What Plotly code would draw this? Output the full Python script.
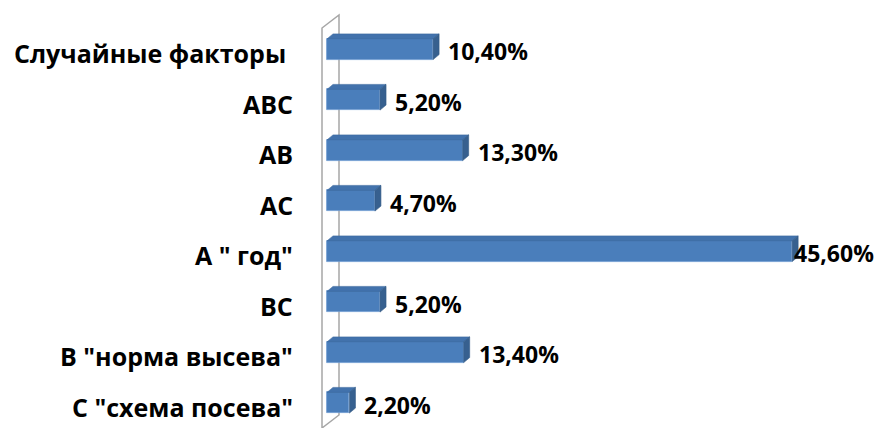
import plotly.graph_objects as go

categories = ["Случайные факторы ", "АВС", "АВ", "АС", "А \" год\"", "ВС", "В \"норма высева\"", "С \"схема посева\""]
values = [10.4, 5.2, 13.3, 4.7, 45.6, 5.2, 13.4, 2.2]
labels = ["10,40%", "5,20%", "13,30%", "4,70%", "45,60%", "5,20%", "13,40%", "2,20%"]

W, H = 875, 428
ML, MR, MT, MB = 315, 8, 24, 0
X0, X1 = -1.176, 52.94
Y0, Y1 = 7.5, -0.5
pw, ph = W - ML - MR, H - MT - MB
pxx = pw / (X1 - X0)
pxy = ph / abs(Y0 - Y1)

bw = 0.41
dx = 6 / pxx
dy = 5 / pxy

ypos = list(range(len(categories)))

FONT = "Open Sans"
LABEL_W = 80  # approximate pixel width of a data label

fig = go.Figure()
fig.add_trace(go.Bar(
    y=ypos, x=values, orientation="h", width=bw,
    marker=dict(color="#4a7ebb", line=dict(color="#6f9ad0", width=0.8)),
    hoverinfo="skip", showlegend=False,
))

topx, topy, sidex, sidey = [], [], [], []
for y, v in zip(ypos, values):
    t = y - bw / 2
    b = y + bw / 2
    topx += [0, v, v + dx, dx, 0, None]
    topy += [t, t, t - dy, t - dy, t, None]
    sidex += [v, v + dx, v + dx, v, v, None]
    sidey += [t, t - dy, b - dy, b, t, None]

fig.add_trace(go.Scatter(x=topx, y=topy, fill="toself", mode="lines",
                         fillcolor="#4272ac", line=dict(color="#3d6aa0", width=0.6),
                         hoverinfo="skip", showlegend=False))
fig.add_trace(go.Scatter(x=sidex, y=sidey, fill="toself", mode="lines",
                         fillcolor="#37608f", line=dict(color="#335a87", width=0.6),
                         hoverinfo="skip", showlegend=False))

for y, v, lab in zip(ypos, values, labels):
    room = (X1 - v) * pxx + MR - 3
    shift = min(13, room - LABEL_W)
    fig.add_annotation(x=v, y=y, text=lab, showarrow=False, xanchor="left",
                       yanchor="middle", xshift=shift, yshift=-2,
                       font=dict(family=FONT, size=23, color="#000000", weight="bold"))

# category labels
for y, cat in zip(ypos, categories):
    fig.add_annotation(x=0, xref="paper", y=y, yref="y", text=cat, showarrow=False,
                       xanchor="right", yanchor="middle", xshift=-20, yshift=-4,
                       font=dict(family=FONT, size=25, color="#000000", weight="bold"))

# side wall of the 3D chart
fig.add_shape(type="path", xref="x", yref="paper",
              path=f"M {-5/pxx} {1-4/ph} L {12/pxx} {1+9/ph} L {12/pxx} {13/ph} L {-5/pxx} 0 Z",
              line=dict(color="#a6a6a6", width=1.5), fillcolor="rgba(0,0,0,0)", layer="below")

fig.update_layout(
    width=W, height=H,
    margin=dict(l=ML, r=MR, t=MT, b=MB),
    paper_bgcolor="white", plot_bgcolor="white",
    xaxis=dict(range=[X0, X1], visible=False, showgrid=False, zeroline=False),
    yaxis=dict(range=[Y0, Y1], tickvals=ypos, showticklabels=False, showgrid=False,
               zeroline=False, showline=False, ticks=""),
    bargap=0,
)

fig.write_html("out.html")
